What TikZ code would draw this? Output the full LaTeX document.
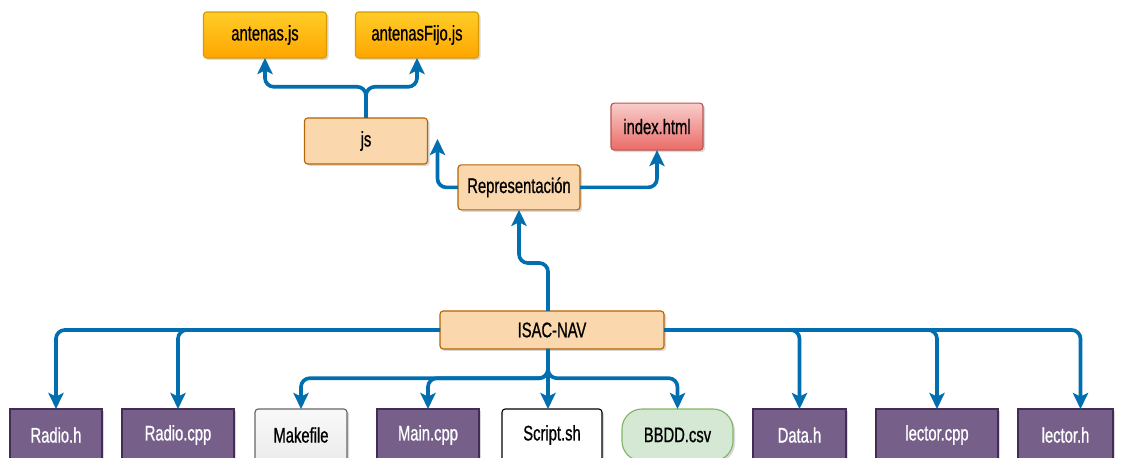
\documentclass[tikz,border=0pt]{standalone}
\usepackage{fontspec}
\setmainfont{Liberation Sans}[FakeStretch=0.7,FakeBold=0.8]
\usetikzlibrary{arrows.meta,positioning,shadows}
\definecolor{flowblue}{HTML}{006EAF}
\definecolor{peach}{HTML}{FAD7AC}
\definecolor{peachline}{HTML}{B46504}
\definecolor{goldtop}{HTML}{FFCD28}
\definecolor{goldbot}{HTML}{FFA500}
\definecolor{goldline}{HTML}{D79B00}
\definecolor{redtop}{HTML}{F8CECC}
\definecolor{redbot}{HTML}{EA6B66}
\definecolor{redline}{HTML}{B85450}
\definecolor{purp}{HTML}{76608A}
\definecolor{purpline}{HTML}{432D57}
\definecolor{mint}{HTML}{D5E8D4}
\definecolor{mintline}{HTML}{82B366}

\begin{document}
\begin{tikzpicture}[>={Stealth[length=0.4cm,width=0.38cm,inset=0.09cm]},
    flow/.style={->,draw=flowblue,line width=2.6pt,rounded corners=0.22cm},
    box/.style={rectangle,draw,line width=0.8pt,rounded corners=0.08cm,inner sep=0pt,outer sep=0pt,
      font=\fontsize{15}{17}\selectfont,
      drop shadow={opacity=0.3,shadow xshift=0.05cm,shadow yshift=-0.05cm}},
    mod node/.style={box,fill=peach,draw=peachline},
    js node/.style={box,top color=goldtop,bottom color=goldbot,draw=goldline},
    html node/.style={box,top color=redtop,bottom color=redbot,draw=redline},
    leaf/.style={box,minimum height=1.3cm},
    src node/.style={leaf,rounded corners=0pt,fill=purp,draw=purpline,text=white},
    make node/.style={leaf,top color=gray!5,bottom color=gray!15,draw=gray!80!black},
    script node/.style={leaf,fill=white,draw=black},
    csv node/.style={leaf,rounded corners=0.5cm,fill=mint,draw=mintline}]

  \useasboundingbox (0,0) rectangle (28.45,11.425);

  % representation branch
  \node[js node,minimum width=3.075cm,minimum height=1.15cm] (antenas) at (6.625,10.55) {antenas.js};
  \node[js node,minimum width=3.075cm,minimum height=1.15cm] (antfijo) at (10.425,10.55) {antenasFijo.js};
  \node[mod node,minimum width=3.075cm,minimum height=1.15cm] (js) at (9.15,7.9) {js};
  \node[html node,minimum width=2.3cm,minimum height=1.175cm] (index) at (16.425,8.26) {index.html};
  \node[mod node,minimum width=3.05cm,minimum height=1.125cm] (repr) at (12.975,6.74) {Representación};
  \node[mod node,minimum width=5.6cm,minimum height=0.95cm] (isac) at (13.8,3.175) {ISAC-NAV};

  % source files
  \node[src node,minimum width=2.3cm,anchor=north west] (radioh) at (0.25,1.2) {Radio.h};
  \node[src node,minimum width=2.8cm] (radiocpp) [right=0.5cm of radioh] {Radio.cpp};
  \node[make node,minimum width=2.3cm] (makefile) [right=0.525cm of radiocpp] {Makefile};
  \node[src node,minimum width=2.55cm] (maincpp) [right=0.75cm of makefile] {Main.cpp};
  \node[script node,minimum width=2.5cm] (script) [right=0.575cm of maincpp] {Script.sh};
  \node[csv node,minimum width=2.775cm] (bbdd) [right=0.5cm of script] {BBDD.csv};
  \node[src node,minimum width=2.325cm] (datah) [right=0.5cm of bbdd] {Data.h};
  \node[src node,minimum width=3.05cm] (lectorcpp) [right=0.75cm of datah] {lector.cpp};
  \node[src node,minimum width=2.375cm] (lectorh) [right=0.5cm of lectorcpp] {lector.h};

  \draw[flow] ([xshift=-0.1cm]isac.north) -- ++(0,1.2) -| (repr.south);
  \draw[flow] (repr.west) -| ([xshift=0.25cm,yshift=0.05cm]js.east);
  \draw[flow] (repr.east) -| (index.south);
  \draw[flow] (js.north) -- ++(0,0.78) -| (antenas.south);
  \draw[flow] (js.north) -- ++(0,0.78) -| (antfijo.south);
  \foreach \n in {radioh,radiocpp}
    \draw[flow] (isac.west) -| (\n.north);
  \foreach \n in {datah,lectorcpp}
    \draw[flow] (isac.east) -| (\n.north);
  \draw[flow] (isac.east) -| ([xshift=0.375cm]lectorh.north);
  \foreach \n in {makefile,maincpp,bbdd}
    \draw[flow] ([xshift=-0.1cm]isac.south) -- ++(0,-0.73) -| (\n.north);
  \draw[flow] ([xshift=-0.1cm]isac.south) -- ([xshift=-0.1cm]isac.south |- script.north);
\end{tikzpicture}
\end{document}
